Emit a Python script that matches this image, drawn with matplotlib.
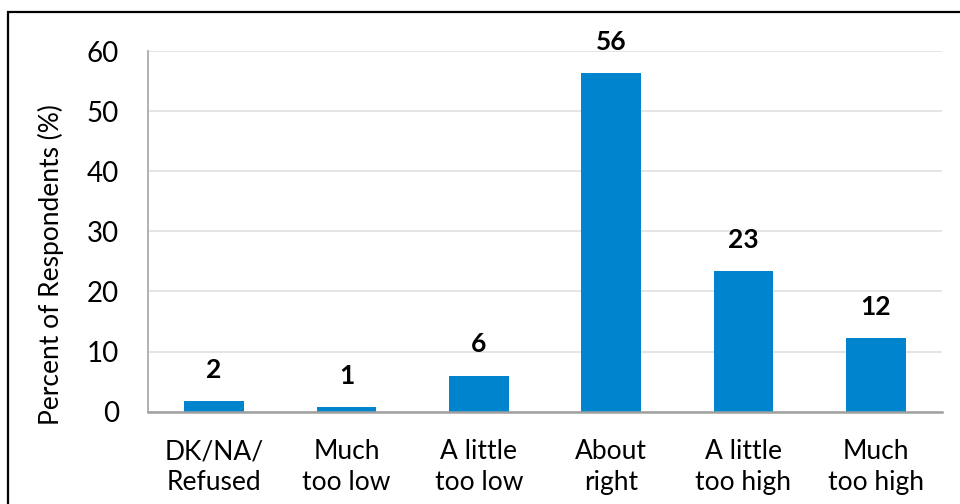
import matplotlib
matplotlib.use("Agg")
import matplotlib.pyplot as plt
from matplotlib.patches import Rectangle

categories = ["DK/NA/\nRefused", "Much\ntoo low", "A little\ntoo low",
              "About\nright", "A little\ntoo high", "Much\ntoo high"]
percent = [1.7, 0.7, 6.0, 56.3, 23.4, 12.2]
y_ticks = [0, 10, 20, 30, 40, 50, 60]

plt.rcParams["font.family"] = ["Lato", "DejaVu Sans"]

fig = plt.figure(figsize=(9.6, 5.04), dpi=100)
ax = fig.add_axes([148 / 960, 1 - 411.7 / 504, (942 - 148) / 960, (411.7 - 51) / 504])

x = range(len(categories))
bars = ax.bar(x, percent, width=0.45, color="#0084CE", zorder=3)

for rect, v in zip(bars, percent):
    ax.annotate(f"{v:.0f}", (rect.get_x() + rect.get_width() / 2, rect.get_height()),
                xytext=(0, 14), textcoords="offset points", ha="center", va="bottom",
                fontsize=19, fontweight="bold", color="black")

ax.set_xlim(-0.5, len(categories) - 0.5)
ax.set_ylim(0, 60)
ax.set_yticks(y_ticks)
ax.set_xticks(list(x))
ax.set_xticklabels(categories, linespacing=1.3)
ax.tick_params(axis="y", length=0, pad=21, labelsize=20)
ax.tick_params(axis="x", length=0, pad=20, labelsize=19)
ax.yaxis.grid(True, color="#E3E3E3", linewidth=1.3, zorder=0)
ax.set_axisbelow(True)

for side in ("top", "right"):
    ax.spines[side].set_visible(False)
ax.spines["left"].set_color("#ABABAB")
ax.spines["left"].set_linewidth(1.3)
ax.spines["bottom"].set_color("#A0A0A0")
ax.spines["bottom"].set_linewidth(1.8)
ax.spines["bottom"].set_zorder(4)

ax.set_ylabel("Percent of Respondents (%)", fontsize=19)
ax.yaxis.set_label_coords(-(148 - 64) / 794, (411.7 - 265) / 360.7)

# outer frame around the chart area
fig.patches.append(Rectangle((8 / 960, -0.05), 1.2, 1 - 12 / 504 + 0.05,
                             transform=fig.transFigure, fill=False,
                             edgecolor="black", linewidth=1.6, zorder=10))

fig.savefig("out.png", dpi=100)
